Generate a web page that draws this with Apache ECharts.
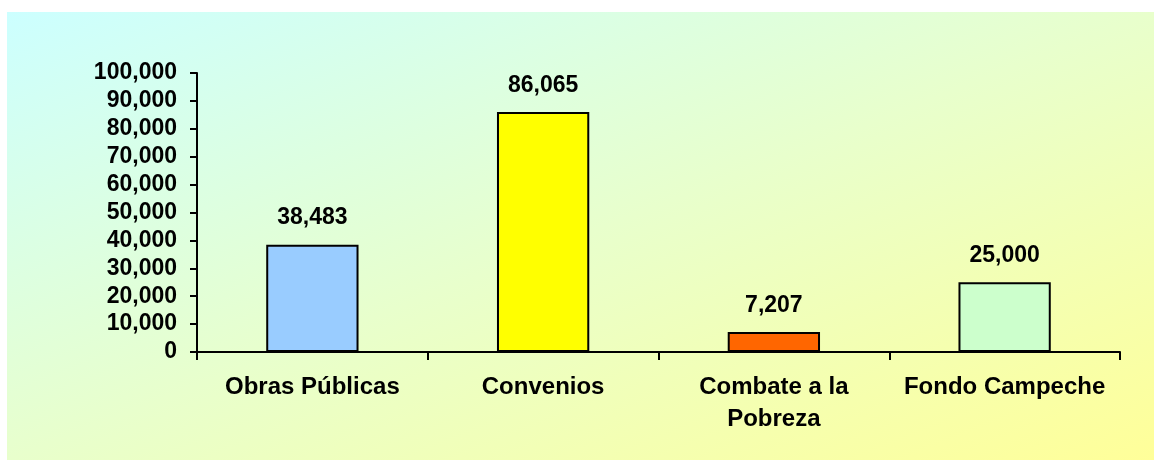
<!DOCTYPE html>
<html>
<head>
<meta charset="utf-8">
<script src="https://cdn.jsdelivr.net/npm/echarts@6/dist/echarts.min.js"></script>
<style>
  html, body { margin: 0; padding: 0; background: #fff; }
  .bg {
    position: absolute; left: 7px; top: 12px; width: 1147px; height: 448px;
    background: linear-gradient(to bottom right, #ccffff 0%, #e8ffcc 50%, #ffff99 100%);
  }
  #chart { position: absolute; left: 0; top: 0; width: 1154px; height: 460px; }
</style>
</head>
<body>
<div class="bg"></div>
<div id="chart"></div>
<script>
// datos del grafico
var categories = ['Obras Públicas', 'Convenios', 'Combate a la\nPobreza', 'Fondo Campeche'];
var values = [38483, 86065, 7207, 25000];
var barColors = ['#99ccff', '#ffff00', '#ff6600', '#ccffcc'];
var yTicks = [0, 10000, 20000, 30000, 40000, 50000, 60000, 70000, 80000, 90000, 100000];

var fmt = function (v) {
  return Number(v).toLocaleString('en-US');
};

var myChart = echarts.init(document.getElementById('chart'));
var option = {
  backgroundColor: 'transparent',
  animation: false,
  textStyle: {
    fontFamily: 'Liberation Sans, Arial, sans-serif',
  },
  grid: {
    left: 197,
    right: 34,
    top: 73,
    bottom: 108,
  },
  xAxis: {
    type: 'category',
    data: categories,
    axisLine: { lineStyle: { color: '#000', width: 2 } },
    axisTick: { show: true, alignWithLabel: false, length: 8, lineStyle: { color: '#000', width: 2 } },
    axisLabel: {
      color: '#000',
      fontWeight: 'bold',
      fontSize: 24,
      lineHeight: 32,
      margin: 19,
      interval: 0,
    },
  },
  yAxis: {
    type: 'value',
    min: yTicks[0],
    max: yTicks[yTicks.length - 1],
    interval: 10000,
    axisLine: { show: true, lineStyle: { color: '#000', width: 2 } },
    axisTick: { show: true, length: 7, lineStyle: { color: '#000', width: 2 } },
    splitLine: { show: false },
    axisLabel: {
      color: '#000',
      fontWeight: 'bold',
      fontSize: 23,
      margin: 20,
      formatter: fmt,
    },
  },
  series: [{
    type: 'bar',
    barWidth: '40%',
    data: values.map(function (v, i) {
      return { value: v, itemStyle: { color: barColors[i] } };
    }),
    itemStyle: { borderColor: '#000', borderWidth: 2 },
    label: {
      show: true,
      position: 'top',
      distance: 15,
      color: '#000',
      fontWeight: 'bold',
      fontSize: 23,
      formatter: function (p) { return fmt(p.value); },
    },
  }],
};
myChart.setOption(option);
</script>
</body>
</html>
